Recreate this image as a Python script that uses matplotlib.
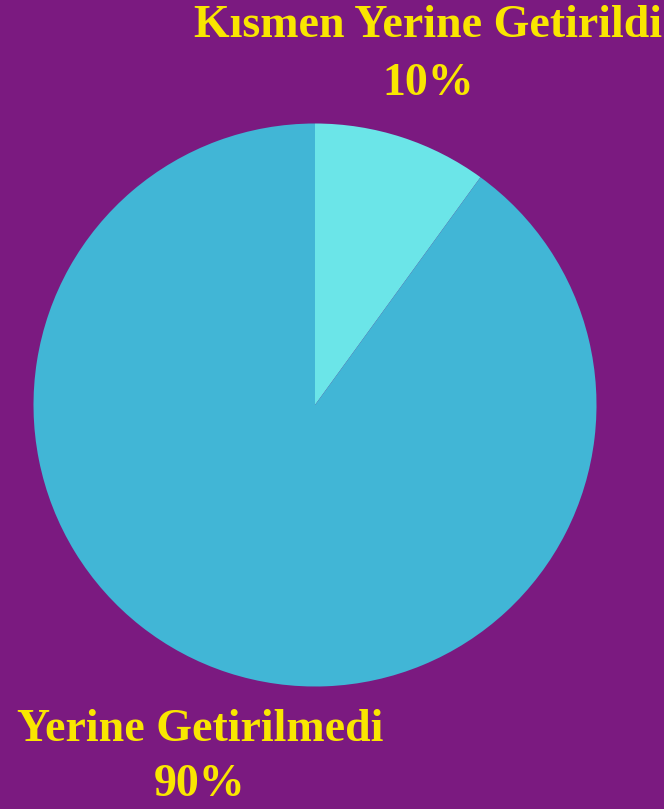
import matplotlib
matplotlib.use("Agg")
import matplotlib.pyplot as plt

categories = ["Kısmen Yerine Getirildi", "Yerine Getirilmedi"]
values = [10, 90]
pct_labels = ["10%", "90%"]
colors = ["#6BE5E8", "#41B6D6"]
bg = "#7B1A80"
yellow = "#F9E600"

W, H = 664, 809
cx, cy, r = 315, 405, 281.5

fig = plt.figure(figsize=(W / 100, H / 100), dpi=100, facecolor=bg)
ax = fig.add_axes([0, 0, 1, 1])
ax.set_facecolor(bg)
ax.pie(values, colors=colors, startangle=90, counterclock=False,
       radius=1, center=(0, 0), wedgeprops=dict(linewidth=0))
ax.set_xlim(-cx / r, (W - cx) / r)
ax.set_ylim(-(H - cy) / r, cy / r)
ax.set_aspect("equal")
ax.axis("off")

def px(x, y):
    return ((x - cx) / r, (cy - y) / r)

font = dict(family="Liberation Serif", fontweight="bold", color=yellow,
            fontsize=33, ha="center", va="center")
label_pos = [(428, 26, 84), (200, 730, 785)]
for cat, pct, (x, y1, y2) in zip(categories, pct_labels, label_pos):
    ax.text(*px(x, y1), cat, **font)
    ax.text(*px(x, y2), pct, **font)

fig.savefig("out.png", dpi=100, facecolor=bg)
